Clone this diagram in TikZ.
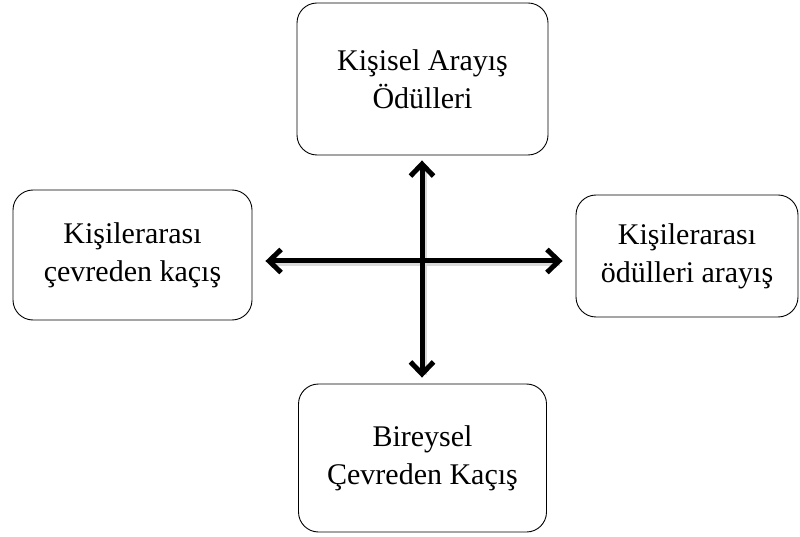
\documentclass[tikz,border=0pt]{standalone}
\usepackage{fontspec}
\setmainfont{Liberation Serif}
\usetikzlibrary{arrows.meta,positioning}

\tikzset{
  box/.style={draw, rounded corners=20pt, line width=0.9pt, align=center,
    inner sep=0pt, font=\fontsize{30}{38}\selectfont},
  link/.style={line width=5pt, {Straight Barb[length=12pt,width=23pt]}-{Straight Barb[length=12pt,width=23pt]}},
  linkshadow/.style={line width=6pt, black!15, transform canvas={shift={(2pt,-2pt)}}}
}

\begin{document}
\begin{tikzpicture}[x=1pt,y=1pt]
   \useasboundingbox (0,0) rectangle (800,536);
   \coordinate (hub) at (422,275);
   \node[box, minimum width=251pt, minimum height=152pt] (kisisel)  at (422.5,457) {Kişisel Arayış\\Ödülleri};
   \node[box, minimum width=239pt, minimum height=130pt] (kacis)    at (132.5,281) {Kişilerarası\\çevreden kaçış};
   \node[box, minimum width=222pt, minimum height=122pt] (arayis)   at (687,280)   {Kişilerarası\\ödülleri arayış};
   \node[box, minimum width=248pt, minimum height=148pt] (bireysel) at (422.5,78) {Bireysel\\Çevreden Kaçış};
   % shadows first, then the arrows
   \draw[linkshadow, shorten <=10pt, shorten >=11pt] (kisisel.south -| hub) -- (bireysel.north -| hub);
   \draw[linkshadow, shorten <=18pt, shorten >=18pt] (kacis.east |- hub) -- (arayis.west |- hub);
   \draw[link, shorten <=5pt, shorten >=6pt] (kisisel.south -| hub) -- (bireysel.north -| hub);
   \draw[link, shorten <=13pt, shorten >=13pt] (kacis.east |- hub) -- (arayis.west |- hub);
\end{tikzpicture}
\end{document}
